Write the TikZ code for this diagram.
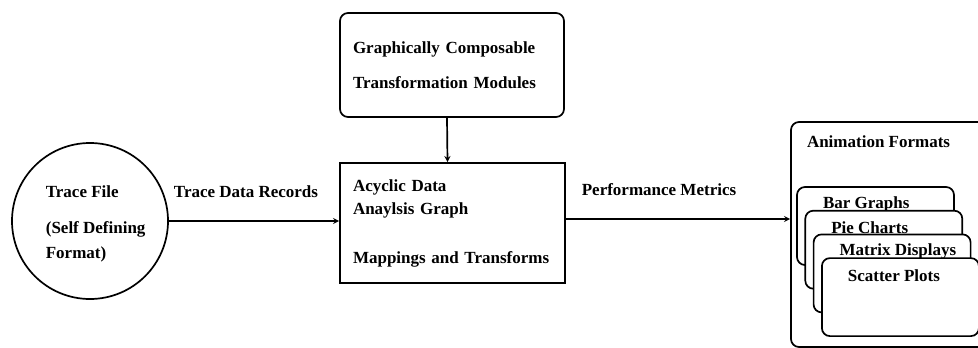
\documentclass[tikz,border=0pt]{standalone}
\usepackage{fontspec}
\setmainfont{Liberation Serif}
\usetikzlibrary{positioning}

\begin{document}
\begin{tikzpicture}[x=1pt, y=-1pt, line width=1.7pt,
  every node/.style={font=\fontsize{17}{20}\selectfont\bfseries, inner sep=0pt},
  flow/.style={-{stealth}},
  card/.style={draw, fill=white, rounded corners=8pt, minimum width=157pt, minimum height=78pt}]
\useasboundingbox (0,0) rectangle (978,348);
\node[draw, circle, minimum size=156pt] (trace) at (90,221) {};
\node[anchor=west, align=left] (tracetext) at (45,224) {Trace File\\[16pt](Self Defining\\[5pt]Format)};
\node[draw, rounded corners=8pt, minimum width=224pt, minimum height=104pt, align=left, text width=198pt] (modules) at (452,65) {Graphically Composable\\[15pt]Transformation Modules};
\node[draw, minimum width=225pt, minimum height=120pt, align=left, text width=199pt] (dag) at (452.5,223) {Acyclic Data\\[3pt]Anaylsis Graph\\[29pt]Mappings and Transforms};
\node[draw, rounded corners=8pt, minimum width=209pt, minimum height=225pt] (anim) at (895.5,234.5) {};
\node[anchor=west] (animtext) at ([xshift=16pt, yshift=-21pt]anim.north west) {Animation Formats};
% stacked display cards
\foreach \name [count=\i from 0] in {Bar Graphs, Pie Charts, Matrix Displays, Scatter Plots} {
  \node[card] (card\i) at (875.5+8.3*\i, 226+23.7*\i) {};
  \node[anchor=west] (cardtext\i) at ([xshift=26pt, yshift=-18pt]card\i.north west) {\name};
}
\draw[flow] ([xshift=-5pt]modules.south) -- ([xshift=-5pt]dag.north);
\draw[flow] (trace.east) -- (trace.east -| dag.west);
\draw[flow] ([yshift=4pt]dag.east) -- ([yshift=4pt]dag.east -| anim.west);
\node (tdr) at (246,192) {Trace Data Records};
\node (perf) at (659,190) {Performance Metrics};
\end{tikzpicture}
\end{document}
